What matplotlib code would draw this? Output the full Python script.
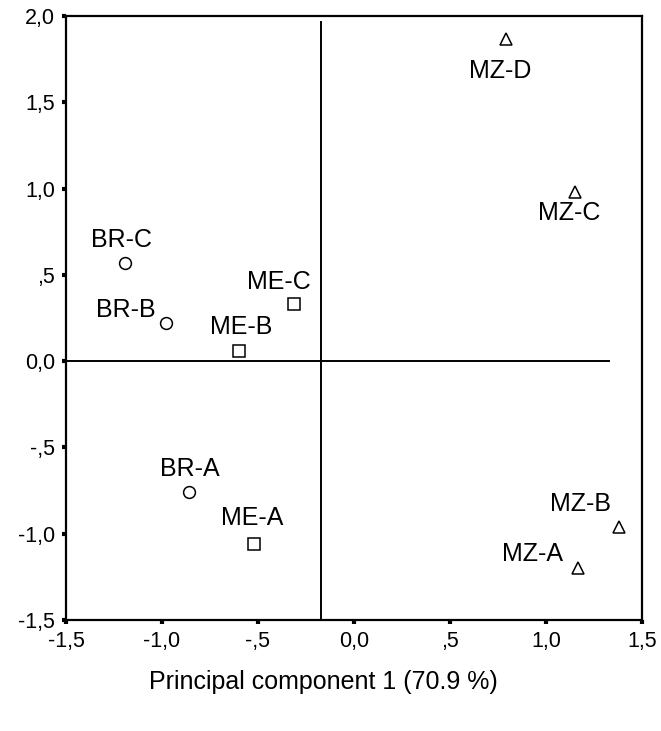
import matplotlib
matplotlib.use("Agg")
import matplotlib.pyplot as plt

plt.rcParams["font.family"] = ["Liberation Sans", "DejaVu Sans"]

# sample scores
br_names = ["BR-A", "BR-B", "BR-C"]
br_x = [-0.86, -0.98, -1.19]
br_y = [-0.76, 0.22, 0.57]

me_names = ["ME-A", "ME-B", "ME-C"]
me_x = [-0.52, -0.60, -0.31]
me_y = [-1.06, 0.06, 0.33]

mz_names = ["MZ-A", "MZ-B", "MZ-C", "MZ-D"]
mz_x = [1.17, 1.38, 1.15, 0.79]
mz_y = [-1.20, -0.96, 0.98, 1.87]

xticks = [-1.5, -1.0, -0.5, 0.0, 0.5, 1.0, 1.5]
xticklabels = ["-1,5", "-1,0", "-,5", "0,0", ",5", "1,0", "1,5"]
yticks = [-1.5, -1.0, -0.5, 0.0, 0.5, 1.0, 1.5, 2.0]
yticklabels = ["-1,5", "-1,0", "-,5", "0,0", ",5", "1,0", "1,5", "2,0"]

# label offsets in pixels (dx, dy) relative to each marker
offsets = {
    "BR-A": (1, 23), "BR-B": (-40, 13), "BR-C": (-4, 23),
    "ME-A": (-2, 26), "ME-B": (2, 24), "ME-C": (-16, 22),
    "MZ-A": (-46, 14), "MZ-B": (-38, 23), "MZ-C": (-5, -21), "MZ-D": (-5, -32),
}

fig = plt.figure(figsize=(6.61, 7.31), dpi=100)
ax = fig.add_axes([0.0998, 0.152, 0.8712, 0.826])
ax.set_xlim(-1.5, 1.5)
ax.set_ylim(-1.5, 2.0)

# reference lines through the origin of the plot
ax.plot([-1.5, 1.33], [0, 0], color="black", lw=1.4, zorder=1)
ax.plot([-0.17, -0.17], [-1.5, 1.965], color="black", lw=1.4, zorder=1)

mk = dict(ls="none", mfc="white", mec="black", mew=1.1, zorder=3)
ax.plot(br_x, br_y, marker="o", ms=8.5, **mk)
ax.plot(me_x, me_y, marker="s", ms=8.5, **mk)
ax.plot(mz_x, mz_y, marker="^", ms=8, **mk)

for names, xs, ys in ((br_names, br_x, br_y), (me_names, me_x, me_y),
                      (mz_names, mz_x, mz_y)):
    for n, x, y in zip(names, xs, ys):
        dx, dy = offsets[n]
        ax.annotate(n, (x, y), xytext=(dx, dy), textcoords="offset pixels",
                    ha="center", va="center", fontsize=18)

ax.set_xticks(xticks)
ax.set_xticklabels(xticklabels)
ax.set_yticks(yticks)
ax.set_yticklabels(yticklabels)
ax.tick_params(direction="out", length=3, width=3, labelsize=15.5, pad=5)
for s in ax.spines.values():
    s.set_linewidth(1.6)

fig.text(0.489, 1 - 682 / 731, "Principal component 1 (70.9 %)",
         ha="center", va="center", fontsize=18)

fig.savefig("out.png", dpi=100, facecolor="white")
